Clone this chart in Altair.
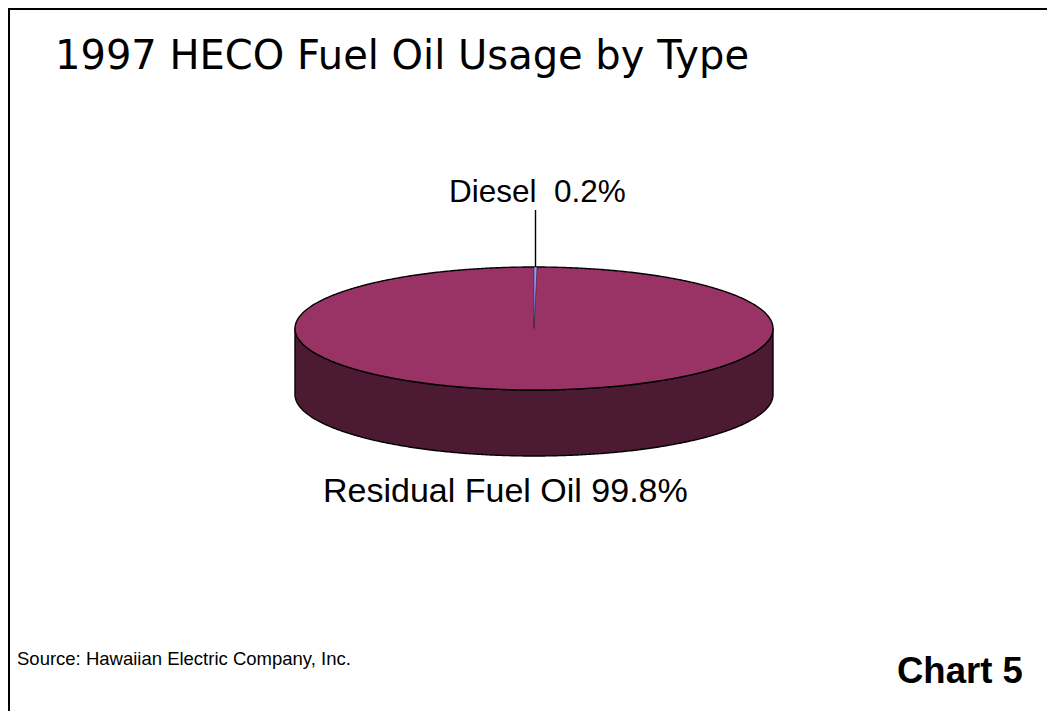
import numpy as np
import pandas as pd
import altair as alt

# Values
labels = ["Residual Fuel Oil", "Diesel"]
shares = [99.8, 0.2]
slice_colors = ["#993366", "#9999FF"]
side_color = "#4D1A33"
title_text = "1997 HECO Fuel Oil Usage by Type"
source_text = "Source: Hawaiian Electric Company, Inc."
chart_text = "Chart 5"

W, H = 1039, 703
CX, CY, RX, RY, DEPTH = 526.0, 320.5, 239.0, 61.5, 66.0

x_scale = alt.Scale(domain=[-CX / RX, (W - CX) / RX], range=[0, W], nice=False, zero=False)
y_scale = alt.Scale(domain=[CY / RY, (CY - H) / RY], range=[0, H], nice=False, zero=False)
x_enc = alt.X("x:Q", scale=x_scale, axis=None)
y_enc = alt.Y("y:Q", scale=y_scale, axis=None)

t = np.linspace(-np.pi / 2, np.pi / 2, 361)
ex = np.sin(t)
ey = np.cos(t)
depth = DEPTH / RY

side_df = pd.DataFrame({"x": ex, "y": -ey, "y2": -ey - depth})
top_df = pd.DataFrame({"x": ex, "y": -ey, "y2": ey})

theta = np.deg2rad(shares[1] / 100 * 360)
ws = np.linspace(0, theta, 5)
wedge_df = pd.DataFrame({
    "x": np.sin(ws),
    "y": np.cos(theta) / np.sin(theta) * np.sin(ws),
    "y2": np.cos(ws),
})
leader_df = pd.DataFrame({"x": [np.sin(theta / 2)] * 2,
                          "y": [np.cos(theta / 2), np.cos(theta / 2) + 57 / RY]})


def area(df, color, sw=1.4):
    return alt.Chart(df).mark_area(
        color=color, stroke="black", strokeWidth=sw, interpolate="linear"
    ).encode(x=x_enc, y=y_enc, y2="y2:Q")


side = area(side_df, side_color)
top = area(top_df, slice_colors[0])
wedge = area(wedge_df, slice_colors[1], 0.4)
leader = alt.Chart(leader_df).mark_line(color="black", strokeWidth=1.4).encode(x=x_enc, y=y_enc)


def text(s, px, py, size, font, weight="normal", color="black"):
    return alt.Chart(pd.DataFrame({"t": [s]})).mark_text(
        align="left", baseline="alphabetic", fontSize=size, font=font, fontWeight=weight, color=color
    ).encode(text="t:N", x=alt.value(px - 8), y=alt.value(py - 8))


title = text(title_text, 55, 69, 40, "DejaVu Sans")
diesel = text(f"{labels[1]}\u00a0\u00a0{shares[1]}%", 449, 202, 31.5, "Liberation Sans")
resid = text(f"{labels[0]} {shares[0]}%", 323, 502, 34, "Liberation Sans")
source = text(source_text, 17, 665, 18.5, "Liberation Sans")
chart5 = text(chart_text, 897, 683, 36.5, "Liberation Sans", "bold")

left_rule = alt.Chart(pd.DataFrame({"a": [0]})).mark_rule(color="black", strokeWidth=4).encode(
    x=alt.value(0), y=alt.value(0), y2=alt.value(H))
top_rule = alt.Chart(pd.DataFrame({"a": [0]})).mark_rule(color="black", strokeWidth=4).encode(
    y=alt.value(0), x=alt.value(0), x2=alt.value(W))

chart = alt.layer(
    side, top, wedge, leader, left_rule, top_rule, title, diesel, resid, source, chart5
).properties(
    width=W, height=H, padding=0, autosize=alt.AutoSizeParams(type="none")
).configure_view(stroke=None)

chart.save("out.html", embed_options={"renderer": "svg", "actions": False})
